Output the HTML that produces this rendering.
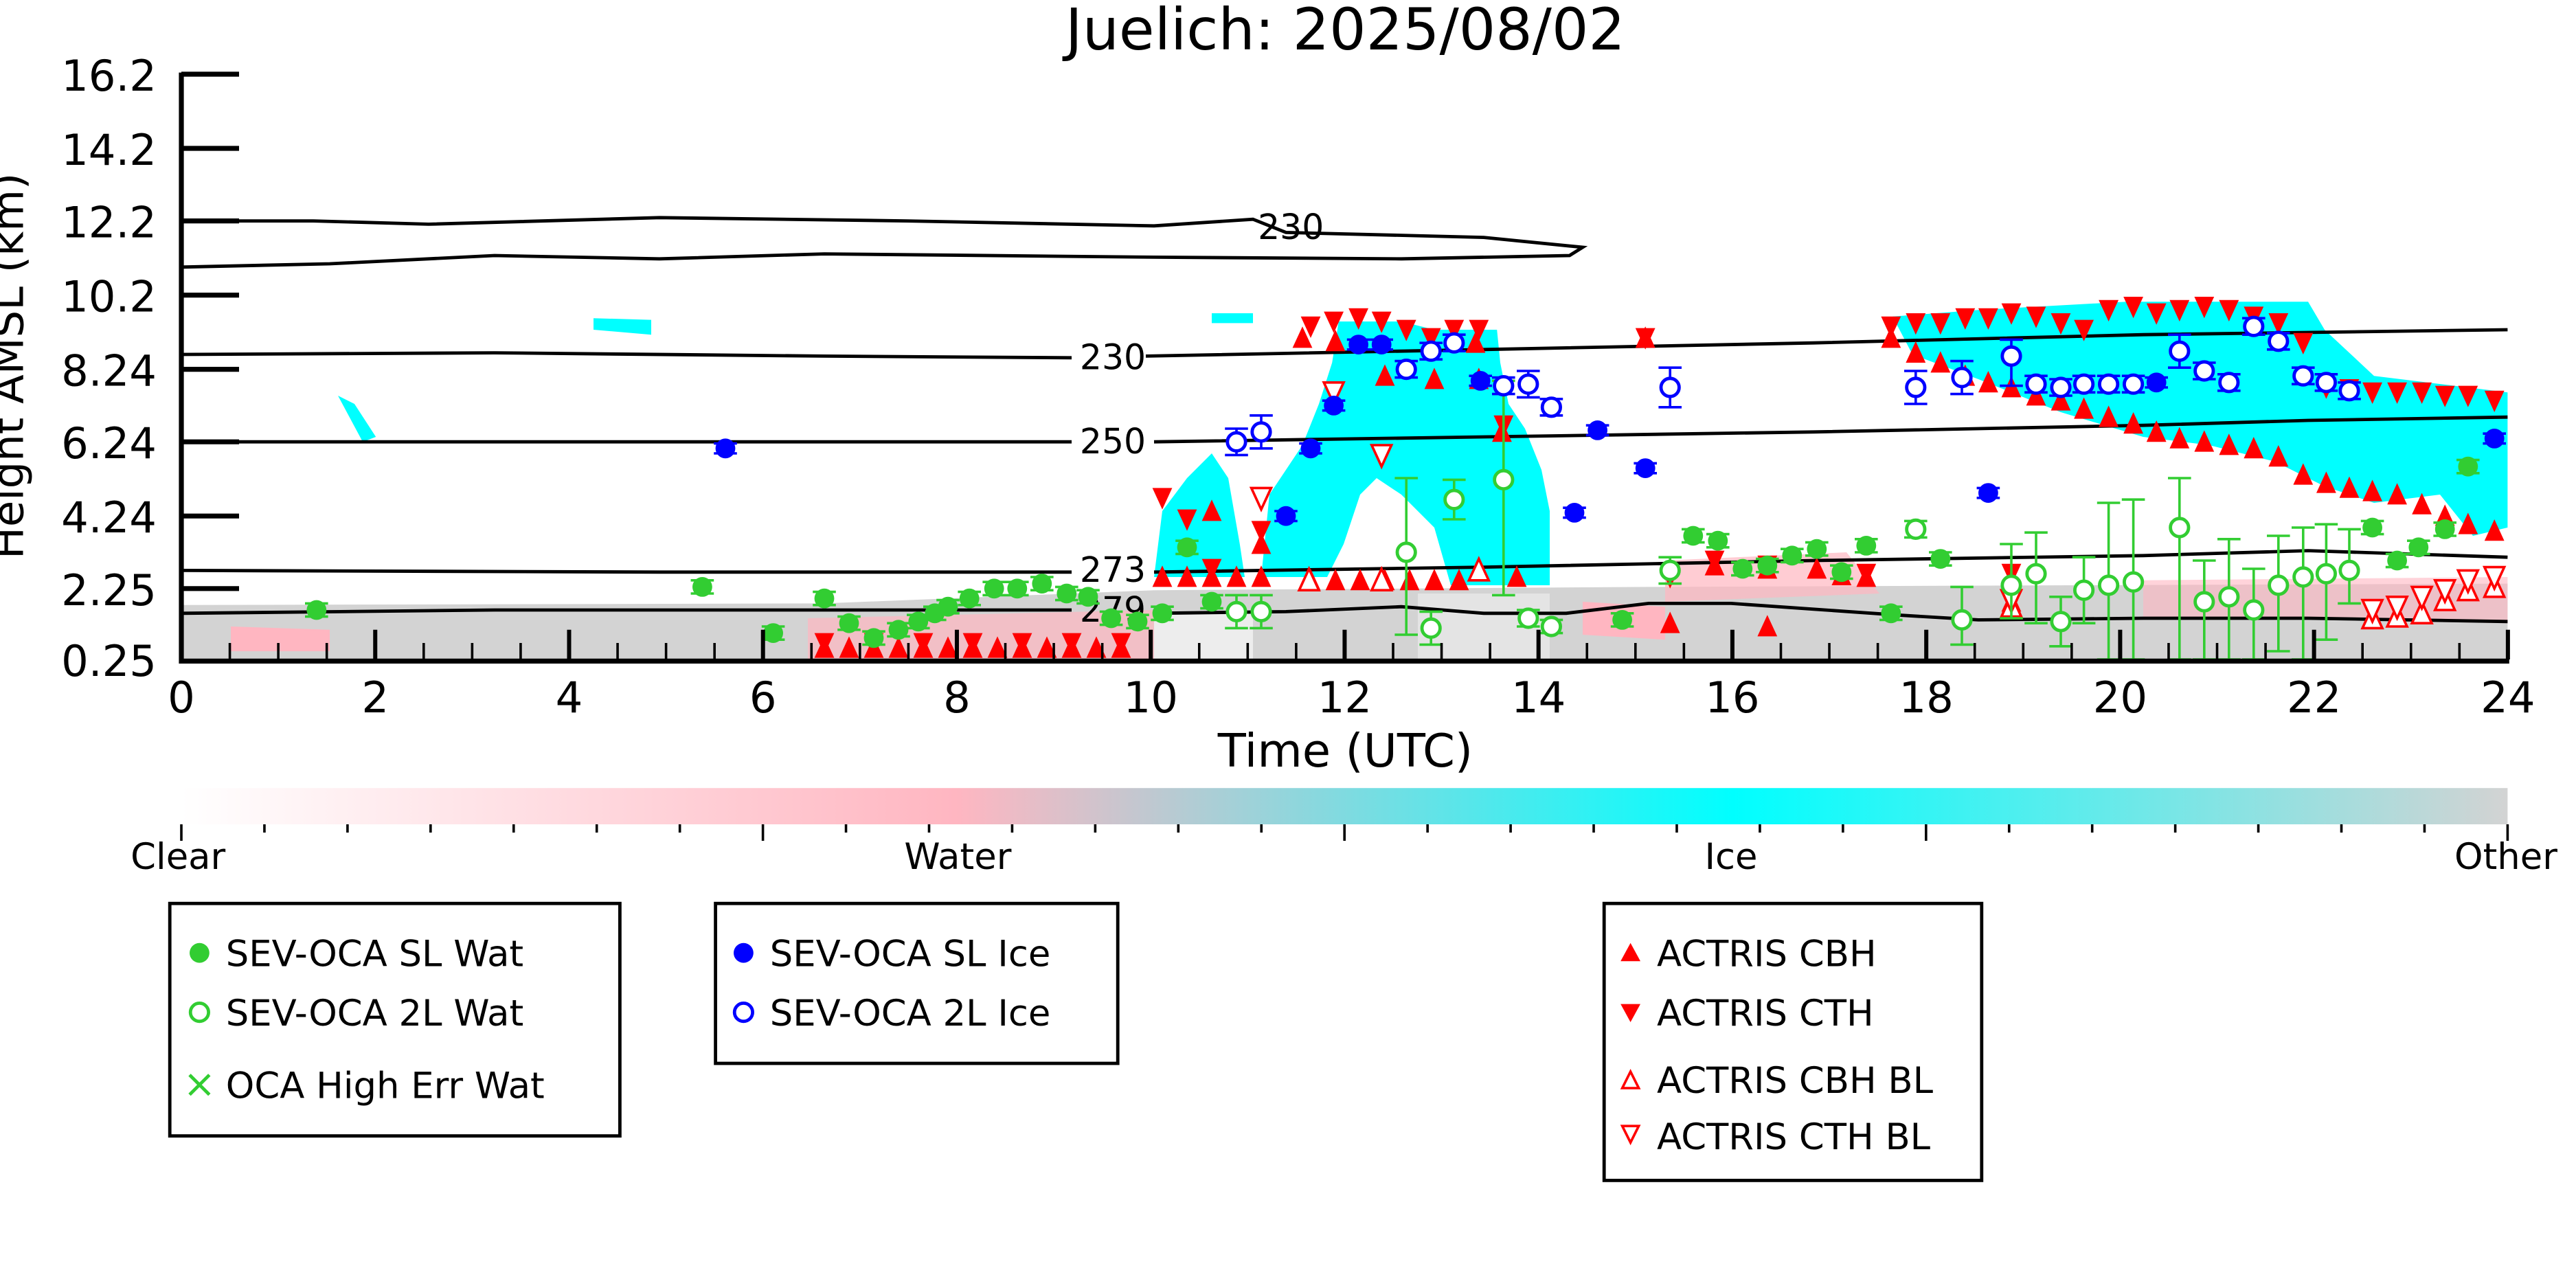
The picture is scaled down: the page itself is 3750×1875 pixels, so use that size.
<!DOCTYPE html>
<html><head><meta charset="utf-8"><style>
html,body{margin:0;padding:0;background:#fff}
svg{display:block}
text{font-family:"DejaVu Sans","Liberation Sans",sans-serif}
</style></head><body>
<svg id="s" width="3750" height="1875" viewBox="0 0 1562.5 781.25" xmlns="http://www.w3.org/2000/svg">
<defs>
<linearGradient id="cb" x1="0" x2="1" y1="0" y2="0">
<stop offset="0" stop-color="#ffffff"/>
<stop offset="0.333" stop-color="#ffb6c1"/>
<stop offset="0.667" stop-color="#00ffff"/>
<stop offset="1" stop-color="#d3d3d3"/>
</linearGradient>
</defs>
<text x="816" y="30" font-size="35" text-anchor="middle">Juelich: 2025/08/02</text>
<path d="M110,367 L500,366 L700,358 L1000,356 L1521,354 L1521,400 L110,400Z" fill="#d3d3d3"/>
<path d="M140,380 L200,382 L200,395 L140,395Z" fill="#ffb6c1"/>
<path d="M490,375 L700,370 L700,400 L490,400Z" fill="#ffb6c1" opacity="0.7"/>
<path d="M960,365 L1010,368 L1010,388 L960,385Z" fill="#ffb6c1"/>
<path d="M1010,340 L1120,335 L1140,360 L1010,365Z" fill="#ffb6c1" opacity="0.7"/>
<path d="M1300,352 L1521,350 L1521,378 L1300,374Z" fill="#ffb6c1" opacity="0.6"/>
<path d="M700,372 L760,372 L760,400 L700,400Z" fill="#fff" opacity="0.6"/>
<path d="M860,360 L940,360 L940,400 L860,400Z" fill="#fff" opacity="0.4"/>
<!-- cyan regions -->
<path d="M700,350 L705,310 L720,290 L735,275 L745,290 L752,330 L755,350Z" fill="#00ffff"/>
<path d="M765,350 L770,300 L790,270 L800,245 L808,220 L812,195 L850,195 L870,200 L908,200 L910,220 L915,245 L925,260 L935,285 L940,310 L940,355 L880,355 L870,320 L850,300 L835,290 L825,300 L815,330 L805,350Z" fill="#00ffff"/>
<path d="M1148,192 L1200,188 L1290,183 L1400,183 L1410,200 L1440,228 L1521,238 L1521,320 L1500,325 L1480,300 L1440,305 L1410,295 L1380,280 L1340,270 L1300,265 L1250,250 L1200,230 L1160,215Z" fill="#00ffff"/>
<path d="M360,193 L395,194 L395,203 L360,200Z" fill="#00ffff"/>
<path d="M205,240 L215,245 L228,265 L220,268Z" fill="#00ffff"/>
<path d="M735,190 L760,190 L760,196 L735,196Z" fill="#00ffff"/>
<g fill="none" stroke="#000" stroke-width="2">
<path d="M110,134 L190,134 L260,136 L400,132 L550,134 L700,137 L760,133 L780,141 L900,144 L960,150 L952,155 L850,157 L700,156 L500,154 L400,157 L300,155 L200,160 L110,162"/>
<path d="M110,215 L300,214 L500,216 L650,217 M695,216 L900,212 L1100,208 L1300,203 L1521,200"/>
<path d="M110,268 L400,268 L650,268 M700,268 L900,265 L1100,262 L1300,258 L1400,255 L1521,253"/>
<path d="M110,346 L400,347 L650,347 M700,347 L900,344 L1100,340 L1300,337 L1400,334 L1521,338"/>
<path d="M110,372 L300,370 L500,370 L650,370 M700,372 L780,371 L850,368 L900,372 L950,372 L1000,366 L1050,366 L1150,373 L1200,376 L1300,375 L1400,375 L1521,377"/>
</g>
<g font-size="21" text-anchor="middle">
<text x="783" y="145">230</text><text x="675" y="224">230</text><text x="675" y="275">250</text><text x="675" y="353">273</text><text x="675" y="377">279</text>
</g>
<g id="mk"></g>
<g stroke="#000" stroke-width="3" fill="none">
<path d="M110,44 L110,401 L1522,401"/>
</g>
<g id="ax" stroke="#000"></g>
<g font-size="26" text-anchor="end">
<text x="95" y="55">16.2</text><text x="95" y="100">14.2</text><text x="95" y="144">12.2</text><text x="95" y="189">10.2</text><text x="95" y="234">8.24</text><text x="95" y="278">6.24</text><text x="95" y="323">4.24</text><text x="95" y="367">2.25</text><text x="95" y="410">0.25</text>
</g>
<text transform="translate(14,222) rotate(-90)" font-size="26" text-anchor="middle">Height AMSL (km)</text>
<g id="xl" font-size="26" text-anchor="middle"></g>
<text x="816" y="465" font-size="28" text-anchor="middle">Time (UTC)</text>
<rect x="110" y="478" width="1411" height="22" fill="url(#cb)"/>
<g id="cbt" stroke="#000" stroke-width="1.5"></g>
<g font-size="22" text-anchor="middle">
<text x="108" y="527">Clear</text><text x="581" y="527">Water</text><text x="1050" y="527">Ice</text><text x="1520" y="527">Other</text>
</g>
<g fill="none" stroke="#000" stroke-width="2">
<rect x="103" y="548" width="273" height="141"/>
<rect x="434" y="548" width="244" height="97"/>
<rect x="973" y="548" width="229" height="168"/>
</g>
<g font-size="22">
<circle cx="121" cy="578" r="6" fill="#32cd32"/><text x="137" y="586">SEV-OCA SL Wat</text>
<circle cx="121" cy="614" r="5.5" fill="none" stroke="#32cd32" stroke-width="2"/><text x="137" y="622">SEV-OCA 2L Wat</text>
<path d="M115,652 L127,664 M127,652 L115,664" stroke="#32cd32" stroke-width="2"/><text x="137" y="666">OCA High Err Wat</text>
<circle cx="451" cy="578" r="6" fill="#0000ff"/><text x="467" y="586">SEV-OCA SL Ice</text>
<circle cx="451" cy="614" r="5.5" fill="none" stroke="#0000ff" stroke-width="2"/><text x="467" y="622">SEV-OCA 2L Ice</text>
<path d="M983,583 L989,572 L995,583Z" fill="#f00"/><text x="1005" y="586">ACTRIS CBH</text>
<path d="M983,609 L989,620 L995,609Z" fill="#f00"/><text x="1005" y="622">ACTRIS CTH</text>
<path d="M984,660 L989,650 L994,660Z" fill="none" stroke="#f00" stroke-width="1.5"/><text x="1005" y="663">ACTRIS CBH BL</text>
<path d="M984,683 L989,693 L994,683Z" fill="none" stroke="#f00" stroke-width="1.5"/><text x="1005" y="697">ACTRIS CTH BL</text>
</g>
</svg>
<script>
var NS="http://www.w3.org/2000/svg";
function el(p,t,a,txt){var e=document.createElementNS(NS,t);for(var k in a)e.setAttribute(k,a[k]);if(txt)e.textContent=txt;p.appendChild(e);return e;}
var ax=document.getElementById('ax'),xl=document.getElementById('xl'),cbt=document.getElementById('cbt'),mk=document.getElementById('mk');
var ys=[45,90,134,179,224,268,313,357];
ys.forEach(function(y){el(ax,'line',{x1:110,x2:145,y1:y,y2:y,'stroke-width':3});});
for(var h=0;h<=48;h++){var x=110+h*29.4;
 if(h%4==0){el(ax,'line',{x1:x,x2:x,y1:400,y2:382,'stroke-width':2.5});el(xl,'text',{x:x,y:432},String(h/2));}
 else el(ax,'line',{x1:x,x2:x,y1:400,y2:390,'stroke-width':1.5});}
for(var i=0;i<=28;i++){var x=110+i*1411/28;el(cbt,'line',{x1:x,x2:x,y1:500,y2:i%7==0?510:505});}
function tri(x,y,up,fill){var d=up?'M'+(x-6)+','+(y+6)+' L'+x+','+(y-7)+' L'+(x+6)+','+(y+6)+'Z':'M'+(x-6)+','+(y-6)+' L'+x+','+(y+7)+' L'+(x+6)+','+(y-6)+'Z';
 el(mk,'path',fill?{d:d,fill:'#f00'}:{d:d,fill:'#fff',stroke:'#f00','stroke-width':1.5});}
var cbh=[[500,393],[515,393],[530,393],[545,393],[560,393],[575,393],[590,393],[605,393],[620,393],[635,393],[650,393],[665,393],[680,393],[705,350],[720,350],[735,350],[750,350],[765,350],[795,352],[810,352],[825,352],[840,352],[855,352],[870,352],[885,352],[920,350],[735,310],[765,330],[897,230],[911,262],[1013,378],[1072,380],[1132,350],[1220,365],[1040,343],[1072,345],[1102,345],[1117,349],
[1177,220],[1192,228],[1206,232],[1220,235],[1235,240],[1250,243],[1264,248],[1279,253],[1294,257],[1308,262],[1322,266],[1337,268],[1352,270],[1367,272],[1382,277],[1397,288],[1411,293],[1425,296],[1439,298],[1454,300],[1469,306],[1483,313],[1497,318],[1513,322],[1162,214],[1147,205],[790,205],[810,207],[840,228],[870,230],[895,208],[998,205]];
cbh.forEach(function(p){tri(p[0],p[1],true,true);});
var cth=[[500,390],[530,390],[560,390],[590,390],[620,390],[650,390],[680,390],[705,302],[720,315],[735,345],[765,322],[795,198],[809,195],[824,193],[838,195],[853,200],[868,205],[882,200],[897,200],[912,258],[998,205],[1147,198],[1162,196],[1177,196],[1192,193],[1206,193],[1220,190],[1235,192],[1250,196],[1264,200],[1279,188],[1294,186],[1308,190],[1322,188],[1337,186],[1352,188],[1367,192],[1382,196],[1397,208],[1411,235],[1425,236],[1439,238],[1454,238],[1469,238],[1483,240],[1497,240],[1513,243],[1132,348],[1220,348],[1013,350],[1040,340],[1072,343]];
cth.forEach(function(p){tri(p[0],p[1],false,true);});
[[794,352],[838,352],[897,346],[1220,368],[1439,375],[1454,374],[1469,372],[1483,364],[1497,358],[1513,356]].forEach(function(p){tri(p[0],p[1],true,false);});
[[809,238],[838,276],[765,302],[1220,364],[1439,370],[1454,368],[1469,362],[1483,358],[1497,352],[1513,350]].forEach(function(p){tri(p[0],p[1],false,false);});
function circ(x,y,c,fill,e){if(e){el(mk,'path',{d:'M'+x+','+(y-e[0])+' L'+x+','+(y+e[1])+' M'+(x-7)+','+(y-e[0])+' L'+(x+7)+','+(y-e[0])+' M'+(x-7)+','+(y+e[1])+' L'+(x+7)+','+(y+e[1]),stroke:c,'stroke-width':1.5,fill:'none'});}
 el(mk,'circle',fill?{cx:x,cy:y,r:6,fill:c}:{cx:x,cy:y,r:5.5,fill:'#fff',stroke:c,'stroke-width':2});}
var G='#32cd32',B='#0000ff';
[[192,370],[426,356],[469,384],[500,363],[515,378],[530,387],[545,382],[557,377],[567,372],[575,368],[588,363],[603,357],[617,357],[632,354],[647,360],[660,362],[674,375],[690,377],[705,372],[720,332],[735,365],[1027,325],[1042,328],[1057,345],[1072,343],[1087,337],[1102,333],[1117,347],[1132,331],[1147,372],[1177,339],[984,376],[1439,320],[1454,340],[1467,332],[1483,321],[1497,283]].forEach(function(p){circ(p[0],p[1],G,true,[4,4]);});
[[750,371,10,10],[765,371,10,10],[853,335,45,50],[868,381,10,10],[882,303,12,12],[912,291,60,70],[927,375,5,5],[941,380,4,4],[1013,346,8,8],[1162,321,5,5],[1190,376,20,15],[1220,355,25,20],[1235,348,25,30],[1250,377,15,15],[1264,358,20,20],[1279,355,50,45],[1294,353,50,47],[1322,320,30,80],[1337,365,25,35],[1352,362,35,38],[1367,370,25,30],[1382,355,30,40],[1397,350,30,50],[1411,348,30,40],[1425,346,25,20]].forEach(function(p){circ(p[0],p[1],G,false,[p[2],p[3]]);});
[[440,272],[780,313],[795,272],[809,246],[824,209],[838,209],[898,231],[955,311],[969,261],[998,284],[1206,299],[1308,232],[1513,266]].forEach(function(p){circ(p[0],p[1],B,true,[3,3]);});
[[750,268,8,8],[765,262,10,10],[853,224,5,5],[868,213,5,5],[882,208,5,5],[912,234,5,5],[927,233,8,8],[941,247,5,5],[1013,235,12,12],[1162,235,10,10],[1190,229,10,10],[1220,216,10,18],[1235,233,5,5],[1250,235,5,5],[1264,233,5,5],[1279,233,5,5],[1294,233,5,5],[1322,213,10,10],[1337,225,5,5],[1352,232,5,5],[1367,198,5,5],[1382,207,5,5],[1397,228,5,5],[1411,232,5,5],[1425,237,5,5]].forEach(function(p){circ(p[0],p[1],B,false,[p[2],p[3]]);});
</script>
</body></html>
